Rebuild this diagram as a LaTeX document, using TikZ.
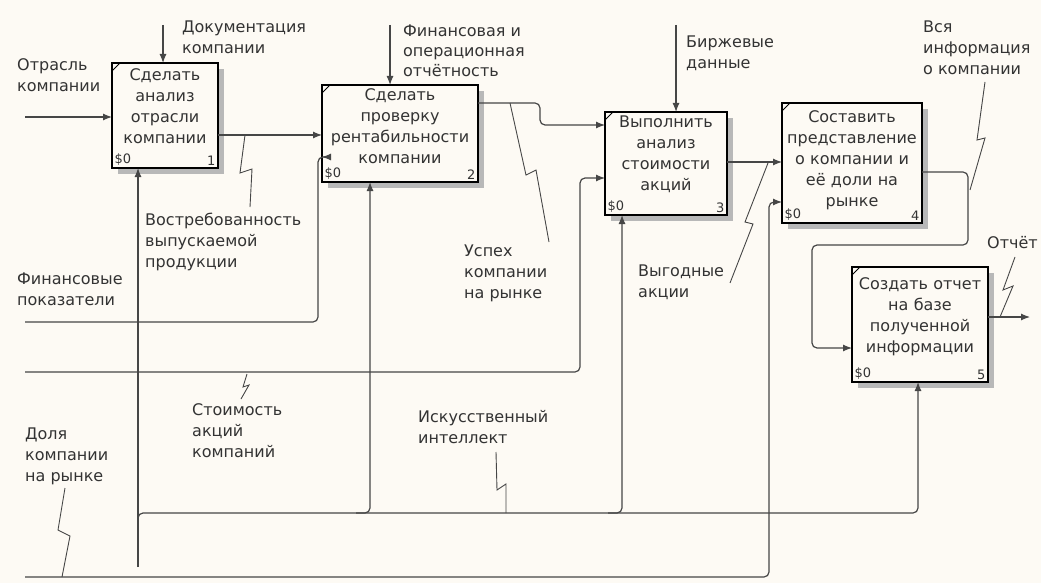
\documentclass[tikz,border=0pt]{standalone}
\usepackage{fontspec}
\setmainfont{DejaVu Sans}
\usetikzlibrary{arrows.meta, positioning, shadows}
\definecolor{paper}{RGB}{253,250,244}
\definecolor{wire}{RGB}{70,70,70}

\begin{document}
\begin{tikzpicture}[
	x=1pt, y=-1pt,
	every node/.style={font=\fontsize{16}{21}\selectfont, text=black!80},
	func/.style={draw, line width=2pt, fill=paper, inner sep=0pt, outer sep=0pt, anchor=north west,
		drop shadow={shadow xshift=6pt, shadow yshift=-6pt, fill=black!28, opacity=1}},
	ftext/.style={align=center, inner sep=0pt},
	lbl/.style={align=left, anchor=north west, inner sep=0pt},
	num/.style={font=\fontsize{13}{13}\selectfont, inner sep=2.5pt},
	arrow/.style={-{Latex[length=9pt, width=7pt]}, line width=1.2pt, draw=wire, rounded corners=5pt},
	squig/.style={line width=0.9pt, draw=wire}
	]
	
	\fill[paper] (0,0) rectangle (1041,583);
	\useasboundingbox (0,0) rectangle (1041,583);
	
	% --- БЛОКИ ---
	\node[func, minimum width=106pt, minimum height=105pt] (b1) at (112,63) {};
	\node[func, minimum width=156pt, minimum height=97pt] (b2) at (322,85) {};
	\node[func, minimum width=122pt, minimum height=103pt] (b3) at (605,112) {};
	\node[func, minimum width=140pt, minimum height=120pt] (b4) at (782,103) {};
	\node[func, minimum width=136pt, minimum height=115pt] (b5) at (852,267) {};
	
	\node[ftext, text width=106pt, below=5pt of b1.north] (t1) {Сделать\\анализ\\отрасли\\компании};
	\node[ftext, text width=156pt, below=3pt of b2.north] (t2) {Сделать\\проверку\\рентабильности\\компании};
	\node[ftext, text width=122pt, below=4pt of b3.north] (t3) {Выполнить\\анализ\\стоимости\\акций};
	\node[ftext, text width=140pt, below=7pt of b4.north] (t4) {Составить\\представление\\о компании и\\её доли на\\рынке};
	\node[ftext, text width=136pt, below=10pt of b5.north] (t5) {Создать отчет\\на базе\\полученной\\информации};
	
	\foreach \b/\n in {b1/1, b2/2, b3/3, b4/4, b5/5} {
		\node[num, anchor=south west] at (\b.south west) {\$0};
		\node[num, anchor=south east] at (\b.south east) {\n};
		\draw[line width=1pt] ([yshift=-8pt]\b.north west) -- ([xshift=8pt]\b.north west);
	}
	
	% --- ПОДПИСИ ---
	\node[lbl] (l1) at (17,58) {Отрасль\\компании};
	\node[lbl] (l2) at (182,21) {Документация\\компании};
	\node[lbl, font=\fontsize{16}{20}\selectfont] (l3) at (403,25) {Финансовая и\\операционная\\отчётность};
	\node[lbl] (l4) at (686,36) {Биржевые\\данные};
	\node[lbl] (l5) at (923,21) {Вся\\информация\\о компании};
	\node[lbl] (l6) at (145,213) {Востребованность\\выпускаемой\\продукции};
	\node[lbl] (l7) at (17,273) {Финансовые\\показатели};
	\node[lbl] (l8) at (464,245) {Успех\\компании\\на рынке};
	\node[lbl] (l9) at (638,265) {Выгодные\\акции};
	\node[lbl] (l10) at (192,403) {Стоимость\\акций\\компаний};
	\node[lbl] (l11) at (418,410) {Искусственный\\интеллект};
	\node[lbl] (l12) at (25,428) {Доля\\компании\\на рынке};
	\node[lbl] (l13) at (987,236) {Отчёт};
	
	% --- ВХОДЫ И УПРАВЛЕНИЕ ---
	\coordinate (i1) at (25,117);
	\coordinate (i2) at (25,322);
	\coordinate (i3) at (25,372);
	\coordinate (i4) at (25,577);
	\coordinate (c1) at (163,25);
	\coordinate (c2) at (390,25);
	\coordinate (c3) at (676,25);
	\coordinate (o5) at (1030,317);
	\coordinate (m1) at (138,567);
	
	\draw[arrow] (i1) -- (i1 -| b1.west);
	\draw[arrow] (c1) -- (c1 |- b1.north);
	\draw[arrow] (c2) -- (c2 |- b2.north);
	\draw[arrow] (c3) -- (c3 |- b3.north);
	\draw[arrow] (i2) -- (318,322) -- (318,157) -- (b2.west |- 0,157);
	\draw[arrow] (i3) -- (580,372) -- (580,178) -- (b3.west |- 0,178);
	\draw[arrow] (i4) -- (769,577) -- (769,202) -- (b4.west |- 0,202);
	
	% --- ВЫХОДЫ ---
	\draw[arrow] (b1.east |- 0,135) -- (b2.west |- 0,135);
	\draw[arrow] (b2.east |- 0,103) -- (540,103) -- (540,125) -- (b3.west |- 0,125);
	\draw[arrow] (b3.east |- 0,162) -- (b4.west |- 0,162);
	\draw[arrow] (b4.east |- 0,172) -- (968,172) -- (968,245) -- (812,245) -- (812,348) -- (b5.west |- 0,348);
	\draw[arrow] (b5.east |- o5) -- (o5);
	
	% --- МЕХАНИЗМЫ ---
	\draw[arrow] (m1) -- (m1 |- b1.south);
	\draw[arrow] (138,522) -- (138,513) -- (918,513) -- (918,0 |- b5.south);
	\draw[arrow] (356,513) -- (370,513) -- (370,0 |- b2.south);
	\draw[arrow] (608,513) -- (622,513) -- (622,0 |- b3.south);
	
	% --- ВЫНОСКИ ---
	\draw[squig] (245,135) -- (240,173) -- (252,169) -- (250,207);
	\draw[squig] (510,103) -- (526,175) -- (536,170) -- (549,242);
	\draw[squig] (247,374) -- (243,387) -- (249,385) -- (241,399);
	\draw[squig] (496,452) -- (497,490) -- (506,484) -- (506,513);
	\draw[squig] (65,488) -- (58,530) -- (70,536) -- (62,577);
	\draw[squig] (768,163) -- (745,222) -- (753,224) -- (730,283);
	\draw[squig] (985,82) -- (977,140) -- (985,138) -- (970,190);
	\draw[squig] (1015,257) -- (1003,290) -- (1013,286) -- (1000,317);
	
\end{tikzpicture}
\end{document}
